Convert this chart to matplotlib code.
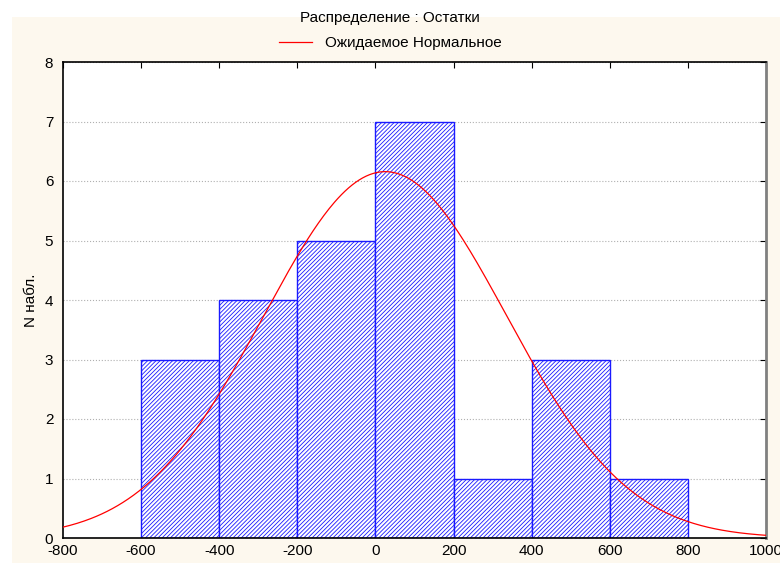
import numpy as np
import matplotlib.pyplot as plt
from matplotlib.patches import Rectangle

plt.rcParams['font.family'] = ['Liberation Sans', 'DejaVu Sans']
plt.rcParams['axes.unicode_minus'] = False
plt.rcParams['hatch.linewidth'] = 0.6
plt.rcParams['hatch.color'] = '#4848e0'

# histogram of residuals
bin_edges = [-600, -400, -200, 0, 200, 400, 600, 800]
counts = [3, 4, 5, 7, 1, 3, 1]

# expected normal
norm_mean = 25
norm_sd = 311
n_total = sum(counts)
bin_width = 200

xticks = [-800, -600, -400, -200, 0, 200, 400, 600, 800, 1000]
yticks = [0, 1, 2, 3, 4, 5, 6, 7, 8]

fig = plt.figure(figsize=(7.8, 5.63), dpi=100)
fig.patch.set_facecolor('white')
fig.patches.append(Rectangle((12 / 780, 0), 1, 1 - 17 / 563, transform=fig.transFigure,
                             facecolor='#fdf8ee', edgecolor='none', zorder=-10))

ax = fig.add_axes([63 / 780, 25 / 563, 703 / 780, 476 / 563])
ax.set_facecolor('white')

lefts = bin_edges[:-1]
ax.bar(lefts, counts, width=np.diff(bin_edges), align='edge', facecolor='white',
       edgecolor='#1a1aff', hatch='////////', linewidth=1.0, zorder=2)

xs = np.linspace(-800, 1000, 400)
ys = n_total * bin_width / (norm_sd * np.sqrt(2 * np.pi)) * np.exp(-0.5 * ((xs - norm_mean) / norm_sd) ** 2)
line, = ax.plot(xs, ys, color='red', linewidth=0.9, zorder=3)

ax.set_xlim(-800, 1000)
ax.set_ylim(0, 8)
ax.set_xticks(xticks)
ax.set_yticks(yticks)
ax.tick_params(axis='x', direction='in', top=True, bottom=False, labelbottom=True, length=4,
               labelsize=11, pad=4)
ax.tick_params(axis='y', direction='in', right=True, left=False, length=4, labelsize=11, pad=7)
ax.grid(axis='y', color='#b0b0b0', linestyle=':', linewidth=0.8, zorder=0)
ax.set_axisbelow(True)
for s in ['left', 'top', 'bottom']:
    ax.spines[s].set_color('black')
    ax.spines[s].set_linewidth(1.2)
ax.spines['right'].set_color('#808080')
ax.spines['right'].set_linewidth(2.0)

ax.set_ylabel('N набл.', fontsize=11, labelpad=5)

fig.text(0.5, 1 - 18 / 563, 'Распределение : Остатки', ha='center', va='center', fontsize=11)
fig.legend([line], ['Ожидаемое Нормальное'], loc='center', bbox_to_anchor=(0.5, 1 - 43 / 563),
           frameon=False, fontsize=11, handlelength=2.2)

fig.savefig('out.png', dpi=100)
